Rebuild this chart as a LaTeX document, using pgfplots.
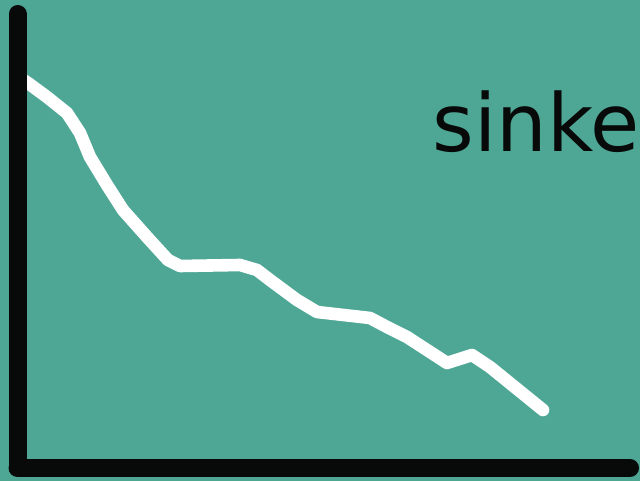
\documentclass[border=0pt]{standalone}
\usepackage{pgfplots}
\pgfplotsset{compat=1.18}
\usepackage{fontspec}
\setmainfont{DejaVu Sans}
\definecolor{bgteal}{RGB}{78,167,149}
\definecolor{ink}{RGB}{8,10,10}

% falling curve (x right, y up)
\pgfplotstableread{
x   y
22  402
28  398
47  384
67  368
80  348
90  324
107 296
123 271
147 244
168 221
180 215
240 216
257 211
270 201
297 181
317 169
370 163
387 154
407 144
447 118
472 126
490 114
543 71
}\curve

\begin{document}
\begin{tikzpicture}
\begin{axis}[
  scale only axis, width=320pt, height=240.5pt,
  xmin=0, xmax=640, ymin=0, ymax=481,
  xtick=\empty, ytick=\empty,
  axis line style={draw=none},
  axis background/.style={fill=bgteal},
  clip=false,
]
\addplot[white, line width=6.3pt, line cap=round, line join=round] table {\curve};
% the thick L-shaped axes
\draw[ink, line width=9pt, line cap=round, line join=round]
  (axis cs:17.5,467) -- (axis cs:17.5,14);
\draw[ink, line width=9pt, line cap=round]
  (axis cs:17.5,13) -- (axis cs:630,13);
\node[ink, anchor=base west, inner sep=0pt, font=\fontsize{40}{42}\selectfont]
  at (axis cs:432,329) {sinke};
\coordinate (sw) at (rel axis cs:0,0);
\coordinate (ne) at (rel axis cs:1,1);
\end{axis}
\pgfresetboundingbox
\path[use as bounding box] (sw) rectangle (ne);
\end{tikzpicture}
\end{document}
